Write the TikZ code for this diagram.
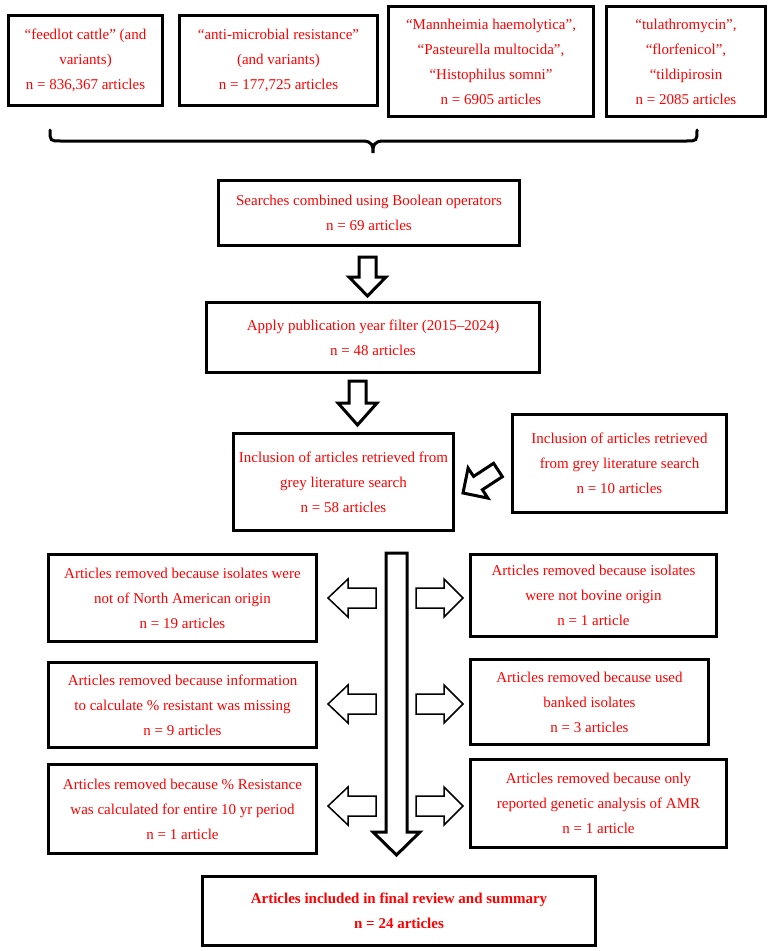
\documentclass[tikz,border=0pt]{standalone}
\usepackage{fontspec}
\setmainfont{Liberation Serif}
\tikzset{
  box/.style={draw=black, line width=3pt, inner sep=0pt, align=center, text=red,
    font=\fontsize{15}{25}\selectfont, anchor=center},
  topbox/.style={box, line width=3.2pt},
  barrow/.style={draw=black, line width=3pt, fill=white, line join=miter},
  tarrow/.style={draw=black, line width=1.5pt, fill=white, line join=miter},
  brace/.style={draw=black, line width=3pt, line cap=round}
}
\begin{document}
\begin{tikzpicture}[x=1pt,y=-1pt]
\useasboundingbox (0,0) rectangle (773,951);

% top search boxes
\node[topbox, minimum width=154pt, minimum height=90pt] (b1) at (85.5,60.5)
  {“feedlot cattle” (and\\variants)\\n = 836,367 articles};
\node[topbox, minimum width=198pt, minimum height=90pt] (b2) at (278.5,60.5)
  {“anti-microbial resistance”\\(and variants)\\n = 177,725 articles};
\node[topbox, minimum width=205pt, minimum height=110pt] (b3) at (491,61.5)
  {“Mannheimia haemolytica”,\\“Pasteurella multocida”,\\“Histophilus somni”\\n = 6905 articles};
\node[topbox, minimum width=159pt, minimum height=110pt] (b4) at (686,61.5)
  {“tulathromycin”,\\“florfenicol”,\\“tildipirosin\\n = 2085 articles};

% brace
\coordinate (brL) at (50,130);
\coordinate (brM) at (373,153);
\coordinate (brR) at (697,130);
\draw[brace] (brL) .. controls (50,141) .. (61,141) -- (362,141)
  .. controls (373,141) and (373,146) .. (brM)
  .. controls (373,146) and (373,141) .. (384,141) -- (686,141)
  .. controls (697,141) .. (brR);

% main flow
\node[box, minimum width=301pt, minimum height=65pt] (s) at (369,213)
  {Searches combined using Boolean operators\\n = 69 articles};
\node[box, minimum width=333pt, minimum height=70pt] (p) at (373,337.5)
  {Apply publication year filter (2015–2024)\\n = 48 articles};
\node[box, minimum width=220pt, minimum height=97pt] (g) at (343.5,482)
  {Inclusion of articles retrieved from\\grey literature search\\n = 58 articles};
\node[box, minimum width=214pt, minimum height=98pt] (g2) at (619.5,463.5)
  {Inclusion of articles retrieved\\from grey literature search\\n = 10 articles};

% block arrows between main boxes
\draw[barrow] (359,257) -- (376,257) -- (376,277) -- (386,277) -- (367.5,296)
  -- (349,277) -- (359,277) -- cycle;
\draw[barrow] (349,381) -- (366,381) -- (366,403) -- (377,403) -- (357.5,425)
  -- (338,403) -- (349,403) -- cycle;
\draw[barrow] (502.4,476.7) -- (493.6,463.3) -- (473.6,476.4) -- (468.1,468.1)
  -- (463,493) -- (487.9,498.1) -- (482.4,489.7) -- cycle;

% exclusion boxes
\node[box, minimum width=268pt, minimum height=87pt] (l1) at (182.5,598)
  {Articles removed because isolates were\\not of North American origin\\n = 19 articles};
\node[box, minimum width=246pt, minimum height=82pt] (r1) at (593.5,595.5)
  {Articles removed because isolates\\were not bovine origin\\n = 1 article};
\node[box, minimum width=268pt, minimum height=85pt] (l2) at (182.5,705)
  {Articles removed because information\\to calculate \% resistant was missing\\n = 9 articles};
\node[box, minimum width=238pt, minimum height=85pt] (r2) at (589.5,702)
  {Articles removed because used\\banked isolates\\n = 3 articles};
\node[box, minimum width=268pt, minimum height=89pt] (l3) at (182.5,809)
  {Articles removed because \% Resistance\\was calculated for entire 10 yr period\\n = 1 article};
\node[box, minimum width=256pt, minimum height=88pt] (r3) at (598.5,803.5)
  {Articles removed because only\\reported genetic analysis of AMR\\n = 1 article};

\node[box, minimum width=393pt, minimum height=69pt, font=\fontsize{15}{25}\selectfont\bfseries] (f) at (399,911)
  {Articles included in final review and summary\\n = 24 articles};

% central long arrow
\draw[barrow] (386,553) -- (407,553) -- (407,832) -- (420,832) -- (396.5,855)
  -- (373,832) -- (386,832) -- cycle;

% side arrows
\foreach \yy in {598,704,806}{
  \draw[tarrow] (376,\yy-10) -- (348,\yy-10) -- (348,\yy-19) -- (328,\yy)
    -- (348,\yy+19) -- (348,\yy+10) -- (376,\yy+10) -- cycle;
  \draw[tarrow] (416,\yy-10) -- (444,\yy-10) -- (444,\yy-19) -- (463,\yy)
    -- (444,\yy+19) -- (444,\yy+10) -- (416,\yy+10) -- cycle;
}
\end{tikzpicture}
\end{document}
